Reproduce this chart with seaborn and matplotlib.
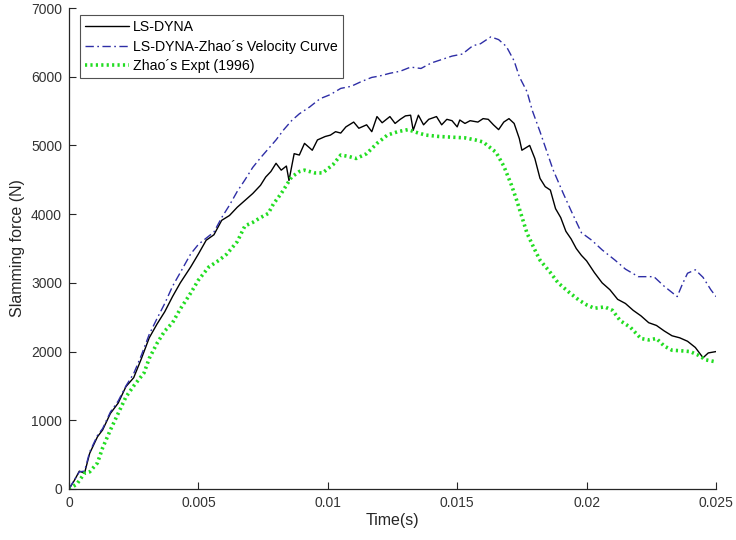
import matplotlib
matplotlib.use("Agg")
import matplotlib.pyplot as plt
import seaborn as sns
import pandas as pd
from matplotlib.ticker import FuncFormatter

# ---- data ----
t_lsdyna = [0, 0.0002, 0.0004, 0.0006, 0.0008, 0.0011, 0.0013, 0.0016, 0.0019, 0.0022,
            0.0025, 0.0028, 0.0031, 0.0034, 0.0037, 0.0040, 0.0043, 0.0047, 0.0050, 0.0053,
            0.0056, 0.0059, 0.0062, 0.0065, 0.0068, 0.0071, 0.0074, 0.0076, 0.0078, 0.0080,
            0.0082, 0.0084, 0.0085, 0.0087, 0.0089, 0.0091, 0.0094, 0.0096, 0.0099, 0.0101,
            0.0103, 0.0105, 0.0107, 0.0110, 0.0112, 0.0115, 0.0117, 0.0119, 0.0121, 0.0124,
            0.0126, 0.0128, 0.0130, 0.0132, 0.0133, 0.0135, 0.0137, 0.0139, 0.0142, 0.0144,
            0.0146, 0.0148, 0.0150, 0.0151, 0.0153, 0.0155, 0.0158, 0.0160, 0.0162, 0.0164,
            0.0166, 0.0168, 0.0170, 0.0172, 0.0174, 0.0175, 0.0178, 0.0180, 0.0182, 0.0184,
            0.0186, 0.0188, 0.0190, 0.0192, 0.0194, 0.0196, 0.0198, 0.0200, 0.0203, 0.0206,
            0.0209, 0.0212, 0.0215, 0.0218, 0.0221, 0.0224, 0.0227, 0.0230, 0.0233, 0.0236,
            0.0239, 0.0242, 0.0245, 0.0247, 0.0250]
f_lsdyna = [0, 120, 260, 230, 520, 760, 860, 1100, 1250, 1490,
            1620, 1900, 2200, 2400, 2580, 2800, 3000, 3230, 3420, 3620,
            3700, 3910, 3980, 4100, 4200, 4300, 4420, 4540, 4620, 4740,
            4640, 4700, 4490, 4880, 4860, 5030, 4930, 5080, 5130, 5150,
            5200, 5180, 5270, 5340, 5250, 5300, 5200, 5420, 5330, 5420,
            5320, 5380, 5430, 5440, 5220, 5440, 5300, 5380, 5420, 5300,
            5380, 5360, 5270, 5370, 5320, 5360, 5340, 5390, 5380, 5300,
            5230, 5340, 5390, 5320, 5100, 4930, 5000, 4810, 4520, 4400,
            4350, 4080, 3950, 3750, 3640, 3500, 3400, 3320, 3150, 3000,
            2900, 2760, 2700, 2600, 2520, 2420, 2380, 2300, 2230, 2200,
            2150, 2060, 1910, 1980, 2000]

t_zhao_vel = [0, 0.0002, 0.0004, 0.0006, 0.0008, 0.0011, 0.0013, 0.0016, 0.0019, 0.0022,
              0.0025, 0.0028, 0.0031, 0.0034, 0.0037, 0.0040, 0.0043, 0.0047, 0.0050, 0.0053,
              0.0056, 0.0059, 0.0062, 0.0065, 0.0068, 0.0071, 0.0074, 0.0077, 0.0080, 0.0083,
              0.0086, 0.0089, 0.0093, 0.0097, 0.0101, 0.0105, 0.0109, 0.0113, 0.0117, 0.0120,
              0.0124, 0.0128, 0.0132, 0.0136, 0.0140, 0.0144, 0.0148, 0.0152, 0.0156, 0.0159,
              0.0163, 0.0166, 0.0169, 0.0172, 0.0174, 0.0177, 0.0179, 0.0182, 0.0184, 0.0187,
              0.0191, 0.0194, 0.0198, 0.0202, 0.0206, 0.0211, 0.0215, 0.0220, 0.0226, 0.0230,
              0.0235, 0.0237, 0.0239, 0.0242, 0.0245, 0.0248, 0.0250]
f_zhao_vel = [0, 130, 250, 260, 540, 780, 880, 1120, 1280, 1500,
              1680, 1950, 2250, 2480, 2700, 2950, 3150, 3420, 3560, 3650,
              3740, 3950, 4130, 4330, 4500, 4680, 4820, 4950, 5080, 5230,
              5360, 5460, 5560, 5680, 5740, 5830, 5860, 5930, 5990, 6010,
              6050, 6080, 6140, 6120, 6200, 6250, 6300, 6330, 6450, 6480,
              6580, 6540, 6440, 6230, 6000, 5780, 5510, 5200, 4980, 4650,
              4300, 4050, 3730, 3620, 3480, 3330, 3200, 3090, 3090, 2950,
              2800, 2980, 3140, 3190, 3080, 2900, 2800]

t_expt = [0, 0.0003, 0.0006, 0.0008, 0.0011, 0.0013, 0.0016, 0.0019, 0.0022, 0.0025,
          0.0029, 0.0031, 0.0034, 0.0037, 0.0040, 0.0043, 0.0047, 0.0050, 0.0054, 0.0058,
          0.0061, 0.0065, 0.0068, 0.0071, 0.0074, 0.0077, 0.0079, 0.0082, 0.0086, 0.0089,
          0.0091, 0.0095, 0.0098, 0.0102, 0.0105, 0.0108, 0.0111, 0.0115, 0.0119, 0.0123,
          0.0127, 0.0131, 0.0135, 0.0138, 0.0143, 0.0148, 0.0153, 0.0157, 0.0160, 0.0163,
          0.0165, 0.0168, 0.0171, 0.0173, 0.0175, 0.0177, 0.0180, 0.0182, 0.0186, 0.0189,
          0.0193, 0.0197, 0.0200, 0.0203, 0.0207, 0.0210, 0.0213, 0.0217, 0.0221, 0.0224,
          0.0227, 0.0230, 0.0233, 0.0237, 0.0240, 0.0243, 0.0246, 0.0250]
f_expt = [0, 70, 230, 250, 380, 600, 860, 1100, 1340, 1500,
          1690, 1900, 2120, 2300, 2420, 2620, 2850, 3040, 3230, 3330,
          3420, 3600, 3830, 3880, 3950, 4010, 4150, 4300, 4540, 4620,
          4640, 4600, 4600, 4720, 4860, 4840, 4810, 4880, 5030, 5150,
          5200, 5230, 5180, 5150, 5130, 5120, 5110, 5080, 5050, 4960,
          4900, 4700, 4420, 4200, 3960, 3720, 3480, 3330, 3150, 3000,
          2870, 2750, 2680, 2630, 2650, 2600, 2450, 2350, 2190, 2170,
          2190, 2080, 2020, 2010, 2000, 1950, 1880, 1850]

labels = ["LS-DYNA", "LS-DYNA-Zhao\u00b4s Velocity Curve", "Zhao\u00b4s Expt (1996)"]
x_ticks = [0, 0.005, 0.01, 0.015, 0.02, 0.025]
y_ticks = [0, 1000, 2000, 3000, 4000, 5000, 6000, 7000]

# ---- plot ----
sns.set_theme(style="white")
plt.rcParams['font.family'] = ['Liberation Sans', 'DejaVu Sans']

fig = plt.figure(figsize=(7.36, 5.40), dpi=100)
ax = fig.add_axes([69 / 736, 51 / 540, 647 / 736, 481 / 540])

df1 = pd.DataFrame({"t": t_lsdyna, "f": f_lsdyna})
df2 = pd.DataFrame({"t": t_zhao_vel, "f": f_zhao_vel})
df3 = pd.DataFrame({"t": t_expt, "f": f_expt})

sns.lineplot(data=df1, x="t", y="f", ax=ax, color="black", linewidth=1.0,
             label=labels[0], sort=False)
sns.lineplot(data=df2, x="t", y="f", ax=ax, color="#2e2ea6", linewidth=1.0,
             linestyle=(0, (6, 2.5, 1.2, 2.5)), label=labels[1], sort=False)
sns.lineplot(data=df3, x="t", y="f", ax=ax, color="#22dd22", linewidth=2.6,
             linestyle=(0, (0.6, 0.9)), label=labels[2], sort=False)

ax.set_xlim(0, 0.025)
ax.set_ylim(0, 7000)
ax.set_xticks(x_ticks)
ax.set_yticks(y_ticks)
ax.xaxis.set_major_formatter(FuncFormatter(lambda v, p: f"{v:g}"))
ax.yaxis.set_major_formatter(FuncFormatter(lambda v, p: f"{int(v)}"))

for s in ["top", "right"]:
    ax.spines[s].set_visible(False)
for s in ["left", "bottom"]:
    ax.spines[s].set_color("#262626")
    ax.spines[s].set_linewidth(0.9)

ax.tick_params(axis="both", direction="in", length=5, width=0.8, colors="#262626",
               labelsize=10, labelcolor="#333333", bottom=True, left=True, pad=5)

ax.set_xlabel("Time(s)", fontsize=11.5, color="#262626", labelpad=2)
ax.set_ylabel("Slamming force (N)", fontsize=11.5, color="#262626", labelpad=4)

leg = ax.legend(loc="upper left", bbox_to_anchor=(11 / 647, 474 / 481), fontsize=10.2,
                frameon=True, fancybox=False, edgecolor="#262626",
                borderpad=0.35, labelspacing=0.4, handlelength=3.1, handletextpad=0.3,
                borderaxespad=0)
leg.get_frame().set_linewidth(0.8)
for txt in leg.get_texts():
    txt.set_color("#000000")

fig.savefig("out.png", dpi=100)
